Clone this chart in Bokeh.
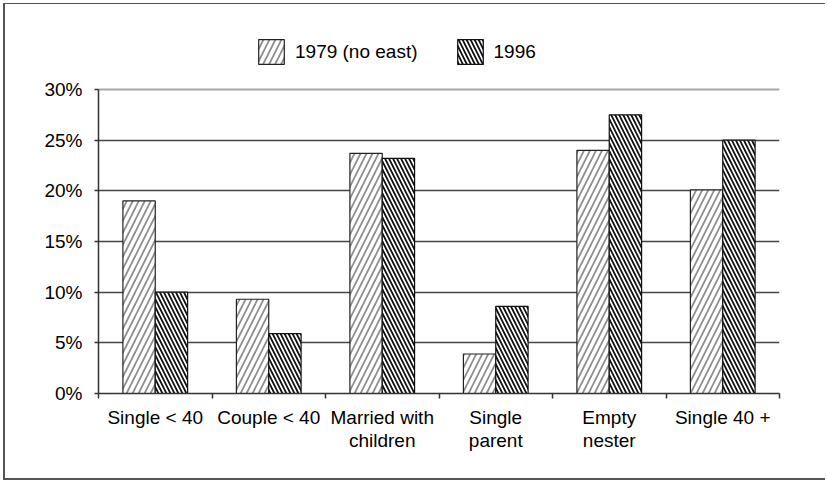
from bokeh.plotting import figure
from bokeh.models import (Range1d, FixedTicker, Legend, LegendItem,
                          ColumnDataSource, Grid)
from bokeh.embed import file_html
from bokeh.resources import INLINE

categories = ["Single < 40", "Couple < 40", "Married with children",
              "Single parent", "Empty nester", "Single 40 +"]
tick_labels = ["Single < 40", "Couple < 40", "Married with\nchildren",
               "Single\nparent", "Empty\nnester", "Single 40 +"]
series_names = ["1979 (no east)", "1996"]
v1979 = [19.0, 9.3, 23.7, 3.9, 24.0, 20.1]
v1996 = [10.0, 5.9, 23.2, 8.6, 27.5, 25.0]
y_ticks = [0, 5, 10, 15, 20, 25, 30]
y_max = 30

FONT = "Liberation Sans"
FS = "19px"

# layout (pixels)
W, H = 822, 477
MB_L, MB_R, MB_T, MB_B = 93, 48, 16, 88
PLOT_H = 304          # pixel height of the 0..30% area
frame_h = H - MB_T - MB_B
y_top = y_max * frame_h / PLOT_H   # room above 30% for the legend

bar_w = 0.285
n = len(categories)
centers = [i + 0.5 for i in range(n)]
src = ColumnDataSource(dict(
    cat=categories,
    x79=[c - bar_w / 2 for c in centers],
    x96=[c + bar_w / 2 for c in centers],
    v79=v1979,
    v96=v1996,
))

p = figure(width=W, height=H, output_backend="svg", toolbar_location=None,
           x_range=Range1d(0, n), y_range=Range1d(0, y_top),
           min_border_left=MB_L, min_border_right=MB_R, min_border_top=MB_T,
           min_border_bottom=MB_B,
           styles={"margin-left": "3px", "margin-top": "3px",
                   "border-left": "2px solid #555555",
                   "border-top": "1px solid #555555",
                   "border-bottom": "2px solid #555555"})

p.outline_line_color = None
p.background_fill_color = "white"
p.border_fill_color = "white"

r79 = p.vbar(x="x79", top="v79", width=bar_w, source=src, fill_color="white",
             line_color="#222222", line_width=1.2,
             hatch_pattern="right_diagonal_line", hatch_color="#8f8f8f",
             hatch_scale=12, hatch_weight=1.8)
r96 = p.vbar(x="x96", top="v96", width=bar_w, source=src, fill_color="white",
             line_color="#111111", line_width=1.2,
             hatch_pattern="left_diagonal_line", hatch_color="#111111",
             hatch_scale=8, hatch_weight=1.8)

# grid
p.xgrid.visible = False
p.ygrid.ticker = FixedTicker(ticks=y_ticks[1:-1])
p.ygrid.grid_line_color = "#444444"
p.ygrid.grid_line_width = 1.5
p.ygrid.bounds = (0, n)
p.ygrid.level = "underlay"

# grey plot-area border (top and right)
top_border = Grid(dimension=1, ticker=FixedTicker(ticks=[y_max]),
                  grid_line_color="#a8a8a8", grid_line_width=2, bounds=(0, n))
right_border = Grid(dimension=0, ticker=FixedTicker(ticks=[n]),
                    grid_line_color="#a8a8a8", grid_line_width=2,
                    bounds=(0, y_max))
p.add_layout(top_border)
p.add_layout(right_border)

# y axis
p.yaxis.ticker = FixedTicker(ticks=y_ticks)
p.yaxis.bounds = (0, y_max)
p.yaxis.major_label_overrides = {t: f"{t}%" for t in y_ticks}
p.yaxis.major_label_text_font = FONT
p.yaxis.major_label_text_font_size = FS
p.yaxis.major_label_text_color = "black"
p.yaxis.major_tick_out = 4
p.yaxis.major_tick_in = 0
p.yaxis.minor_tick_out = 0
p.yaxis.minor_tick_in = 0
p.yaxis.major_label_standoff = 12
p.yaxis.axis_line_color = "#333333"
p.yaxis.axis_line_width = 1.5
p.yaxis.major_tick_line_color = "#333333"
p.yaxis.major_tick_line_width = 1.5

# x axis: labels at centers, ticks at boundaries
p.xaxis.ticker = FixedTicker(ticks=centers, minor_ticks=list(range(n + 1)))
p.xaxis.major_label_overrides = {c: lab for c, lab in zip(centers, tick_labels)}
p.xaxis.major_label_text_font = FONT
p.xaxis.major_label_text_font_size = FS
p.xaxis.major_label_text_color = "black"
p.xaxis.major_label_text_line_height = 1.1
p.xaxis.major_tick_out = 0
p.xaxis.major_tick_in = 0
p.xaxis.minor_tick_out = 5
p.xaxis.minor_tick_in = 0
p.xaxis.minor_tick_line_color = "#333333"
p.xaxis.minor_tick_line_width = 1.5
p.xaxis.major_label_standoff = 8
p.xaxis.axis_line_color = "#333333"
p.xaxis.axis_line_width = 1.5

legend = Legend(items=[LegendItem(label=series_names[0], renderers=[r79]),
                       LegendItem(label=series_names[1], renderers=[r96])],
                orientation="horizontal", location=(157, 326),
                glyph_width=32, glyph_height=31, label_standoff=8,
                spacing=36, padding=0, margin=0,
                border_line_color=None, background_fill_alpha=0,
                label_text_font=FONT, label_text_font_size=FS,
                label_text_color="black")
p.add_layout(legend, "center")

open("out.html", "w").write(file_html(p, INLINE))
